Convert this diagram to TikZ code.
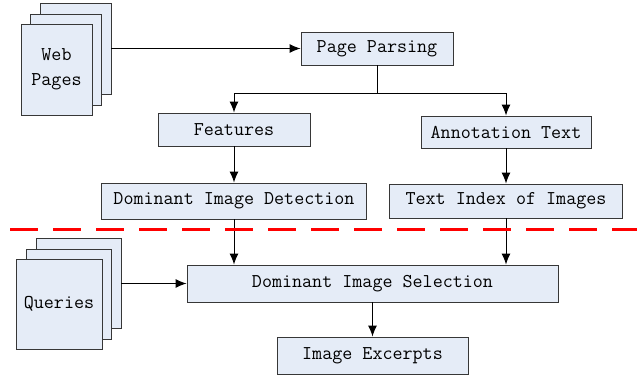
\documentclass[tikz,border=0pt]{standalone}
\usetikzlibrary{arrows.meta}
\definecolor{boxfill}{RGB}{229,236,247}
\definecolor{boxline}{RGB}{55,55,55}
\tikzset{
  stage/.style={draw=boxline, fill=boxfill, line width=0.9pt, inner sep=0pt, font=\ttfamily\fontsize{19.5}{25}\selectfont},
  sheet/.style={stage, minimum width=71, minimum height=91, align=center},
  flow/.style={-{Latex[length=11pt,width=9pt]}, line width=1pt},
}
\begin{document}
\begin{tikzpicture}[x=1pt,y=-1pt]
    \useasboundingbox (0,0) rectangle (637,375);
    % web pages stack
    \node [sheet] (Web3) at (75.5,48.5) {};
    \node [sheet] (Web2) at (66,59.5) {};
    \node [sheet] (Web1) at (56.5,69.5) {Web\\Pages};
    % queries stack
    \node [sheet, minimum width=85, minimum height=90] (Query3) at (78.5,283.5) {};
    \node [sheet, minimum width=85, minimum height=90] (Query2) at (68.5,294) {};
    \node [sheet, minimum width=86, minimum height=90] (Query1) at (59,304) {Queries};

    \node [stage, minimum width=152, minimum height=33] (PageParsing) at (377,48.5) {Page Parsing};
    \node [stage, minimum width=152, minimum height=33] (Features) at (234,129.5) {Features};
    \node [stage, minimum width=170, minimum height=32] (Annotation) at (506,132) {Annotation Text};
    \node [stage, minimum width=265, minimum height=36] (DomDetect) at (234,201) {Dominant Image Detection};
    \node [stage, minimum width=233, minimum height=34] (TextIndex) at (506,201) {Text Index of Images};
    \node [stage, minimum width=371, minimum height=37] (DomSelect) at (372.5,283.5) {Dominant Image Selection};
    \node [stage, minimum width=191, minimum height=37] (Excerpts) at (372.5,355.5) {Image Excerpts};

    \coordinate (split) at (377,93);
    \coordinate (cutL) at (10,229);
    \coordinate (cutR) at (637,229);

    \draw [flow] (Web3.east) -- (PageParsing.west);
    \draw [line width=1pt] (PageParsing.south) -- (split);
    \draw [flow] (split) -| (Features.north);
    \draw [flow] (split) -| (Annotation.north);
    \draw [flow] (Features.south) -- (DomDetect.north);
    \draw [flow] (Annotation.south) -- (TextIndex.north);
    \draw [flow] (DomDetect.south) -- (DomDetect.south |- DomSelect.north);
    \draw [flow] (TextIndex.south) -- (TextIndex.south |- DomSelect.north);
    \draw [flow] (Query3.east) -- (DomSelect.west);
    \draw [flow] (Excerpts.north |- DomSelect.south) -- (Excerpts.north);

    \draw [red, line width=3pt, dash pattern=on 28pt off 15pt] (cutL) -- (cutR);
\end{tikzpicture}
\end{document}
